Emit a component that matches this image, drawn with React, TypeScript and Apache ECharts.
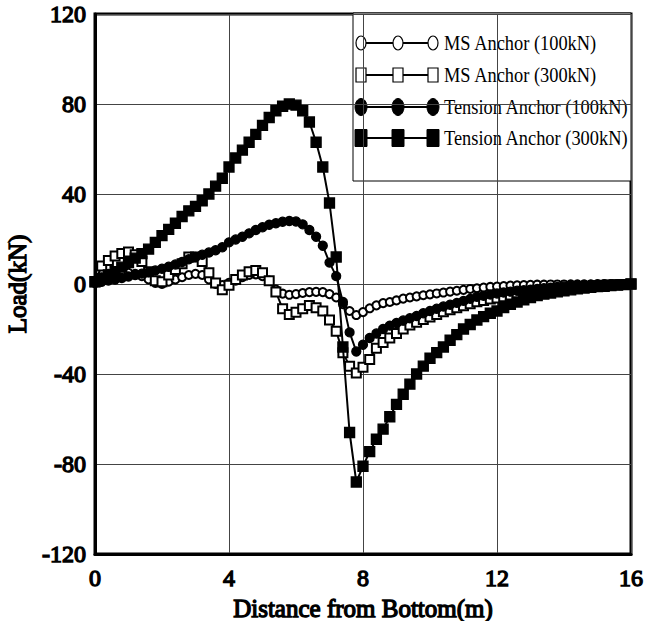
import React, { useEffect, useRef } from "react";
import * as echarts from "echarts";

const distance = [
  0, 0.2, 0.4, 0.6, 0.8, 1.0, 1.2, 1.4, 1.6, 1.8,
  2.0, 2.2, 2.4, 2.6, 2.8, 3.0, 3.2, 3.4, 3.6, 3.8,
  4.0, 4.2, 4.4, 4.6, 4.8, 5.0, 5.2, 5.4, 5.6, 5.8,
  6.0, 6.2, 6.4, 6.6, 6.8, 7.0, 7.2, 7.4, 7.6, 7.8,
  8.0, 8.2, 8.4, 8.6, 8.8, 9.0, 9.2, 9.4, 9.6, 9.8,
  10.0, 10.2, 10.4, 10.6, 10.8, 11.0, 11.2, 11.4, 11.6, 11.8,
  12.0, 12.2, 12.4, 12.6, 12.8, 13.0, 13.2, 13.4, 13.6, 13.8,
  14.0, 14.2, 14.4, 14.6, 14.8, 15.0, 15.2, 15.4, 15.6, 15.8,
  16.0,
];

const msAnchor100 = [
  0.5, 3, 4.5, 5.5, 5.5, 5, 4.5, 3.5, 2, 0.5,
  0, 1, 2, 3, 4, 4.5, 4, 2, 0, -0.5,
  0.5, 1.5, 3, 4, 4.3, 3.5, 1.5, -2.5, -4.3, -4.8,
  -4.5, -4, -3.6, -3.5, -3.6, -4.5, -6, -9, -12, -13.8,
  -12.5, -10.8, -9.5, -8.5, -8, -7.3, -6.5, -6, -5.5, -5,
  -4.6, -4.2, -3.8, -3.4, -3, -2.6, -2.2, -1.9, -1.6, -1.3,
  -1.1, -0.9, -0.7, -0.6, -0.5, -0.4, -0.3, -0.3, -0.2, -0.2,
  -0.2, -0.1, -0.1, -0.1, -0.1, 0, 0, 0, 0, 0,
  0,
];

const msAnchor300 = [
  1, 8, 10.5, 12.5, 13.6, 14.2, 13, 10, 5.5, 1.5,
  1, 4, 6.5, 9, 12, 12, 10, 5, 0.5, -2.5,
  -0.5, 2, 4, 5.5, 6, 5, 1.5, -3.5, -11, -13.5,
  -12.5, -11, -9.5, -10.5, -12, -16, -21, -30.5, -36.5, -39.5,
  -37, -33.5, -28.5, -26, -24, -22, -20, -18.2, -17, -15.8,
  -14.7, -13.5, -12.3, -11.4, -10.6, -9.7, -8.8, -7.9, -7.3, -6.7,
  -6.2, -5.7, -5.2, -4.8, -4.4, -4, -3.6, -3.2, -2.8, -2.5,
  -2.2, -1.9, -1.6, -1.3, -1, -0.8, -0.6, -0.4, -0.3, -0.2,
  0,
];

const tensionAnchor100 = [
  0.5, 1, 1.5, 2, 2.7, 3.3, 4, 4.6, 5.2, 6,
  6.8, 7.7, 8.7, 9.8, 11, 12, 13, 14, 15, 16.3,
  18.5, 19.8, 21, 22.5, 24, 25.2, 26.3, 27, 27.7, 28,
  27.8, 26.5, 24, 21, 17, 9.5, 3.5, -8, -21.5, -30,
  -27, -24, -22, -20, -18.5, -17.3, -16.2, -15.2, -14.2, -13,
  -12, -11, -10, -9.2, -8.4, -7.5, -6.6, -5.7, -5.2, -4.7,
  -4.2, -3.8, -3.4, -3, -2.8, -2.5, -2.2, -1.9, -1.6, -1.3,
  -1.1, -0.9, -0.7, -0.5, -0.4, -0.3, -0.2, -0.2, -0.1, -0.1,
  0,
];

const tensionAnchor300 = [
  1, 2.5, 4, 5.5, 7.5, 9.5, 11.5, 13.5, 15.5, 18.5,
  21.5, 24.3, 27, 30, 32.5, 34.5, 37, 40, 43.5, 47,
  52, 56, 59.5, 63, 66.5, 70.5, 74, 77, 79, 80,
  79.5, 77, 72, 63, 52, 36, 12, -28, -66, -88,
  -81, -74.5, -69, -64.5, -59, -53.5, -49, -44.5, -40, -36.5,
  -33, -30.5, -28, -25, -22.5, -20, -18, -16, -14.5, -13,
  -12, -10.5, -9, -8, -7, -6, -5.2, -4.5, -4, -3.5,
  -3, -2.6, -2.2, -1.8, -1.5, -1.2, -1, -0.7, -0.5, -0.3,
  0,
];

const seriesNames = [
  "MS Anchor (100kN)",
  "MS Anchor (300kN)",
  "Tension Anchor (100kN)",
  "Tension Anchor (300kN)",
];

const xTicks = { min: 0, max: 16, interval: 4 };
const yTicks = { min: -120, max: 120, interval: 40 };

const SERIF = "Liberation Serif, Times New Roman, serif";

function legendGraphic() {
  const rowsY = [43, 75, 107, 138];
  const markerX = [361, 398, 433];
  const kinds = ["emptyCircle", "emptyRect", "circle", "rect"];
  const children: any[] = [
    {
      type: "rect",
      shape: { x: 353, y: 13, width: 278, height: 168 },
      style: { fill: "#fff", stroke: "#000", lineWidth: 1 },
    },
  ];
  rowsY.forEach((y, i) => {
    children.push({
      type: "line",
      shape: { x1: 358, y1: y, x2: 436, y2: y },
      style: { stroke: "#000", lineWidth: 2 },
    });
    markerX.forEach((mx) => {
      const k = kinds[i];
      if (k === "emptyCircle") {
        children.push({
          type: "ellipse",
          shape: { cx: mx, cy: y, rx: 5, ry: 7 },
          style: { fill: "#fff", stroke: "#000", lineWidth: 1.2 },
        });
      } else if (k === "circle") {
        children.push({
          type: "ellipse",
          shape: { cx: mx, cy: y, rx: 6, ry: 8.5 },
          style: { fill: "#000", stroke: "#000", lineWidth: 1 },
        });
      } else if (k === "emptyRect") {
        children.push({
          type: "rect",
          shape: { x: mx - 5, y: y - 7, width: 10, height: 14 },
          style: { fill: "#fff", stroke: "#000", lineWidth: 1.2 },
        });
      } else {
        children.push({
          type: "rect",
          shape: { x: mx - 6, y: y - 8.5, width: 12, height: 17 },
          style: { fill: "#000", stroke: "#000", lineWidth: 1 },
        });
      }
    });
    children.push({
      type: "text",
      x: 444,
      y: y,
      scaleX: 0.92,
      style: {
        text: seriesNames[i],
        fill: "#000",
        fontFamily: SERIF,
        fontSize: 20,
        verticalAlign: "middle",
        align: "left",
      },
    });
  });
  return [{ type: "group", z: 100, children }];
}

export default function App() {
  const ref = useRef<HTMLDivElement>(null);

  useEffect(() => {
    if (!ref.current) return;
    const chart = echarts.init(ref.current, undefined, { renderer: "svg" });
    const pts = (arr: number[]) => distance.map((d, i) => [d, arr[i]]);
    const seriesDefs = [
      { data: msAnchor100, symbol: "emptyCircle", size: 8 },
      { data: msAnchor300, symbol: "emptyRect", size: 9 },
      { data: tensionAnchor100, symbol: "circle", size: 9 },
      { data: tensionAnchor300, symbol: "rect", size: 10 },
    ];
    const labelFont = {
      fontFamily: SERIF,
      fontWeight: "normal",
      fontSize: 24,
      color: "#000",
      textBorderColor: "#000",
      textBorderWidth: 1.3,
    };
    chart.setOption({
      animation: false,
      backgroundColor: "#fff",
      textStyle: { fontFamily: SERIF },
      grid: {
        left: 95,
        right: 22,
        top: 14,
        bottom: 67,
        containLabel: false,
        outerBoundsMode: "none",
        show: true,
        borderColor: "#000",
        borderWidth: 3,
        backgroundColor: "transparent",
      },
      xAxis: {
        type: "value",
        min: xTicks.min,
        max: xTicks.max,
        interval: xTicks.interval,
        name: "Distance from Bottom(m)",
        nameLocation: "middle",
        nameGap: 38,
        nameTextStyle: { ...labelFont, fontSize: 25 },
        axisLine: { show: true, onZero: false, lineStyle: { color: "#000", width: 3 } },
        axisTick: { show: false },
        axisLabel: { margin: 12, ...labelFont },
        splitLine: { show: true, lineStyle: { color: "#444", width: 1 } },
      },
      yAxis: {
        type: "value",
        min: yTicks.min,
        max: yTicks.max,
        interval: yTicks.interval,
        name: "Load(kN)",
        nameLocation: "middle",
        nameRotate: 90,
        nameGap: 50,
        nameTextStyle: { ...labelFont, fontSize: 25 },
        axisLine: { show: true, onZero: false, lineStyle: { color: "#000", width: 3 } },
        axisTick: { show: false },
        axisLabel: { margin: 9, ...labelFont },
        splitLine: { show: true, lineStyle: { color: "#444", width: 1 } },
      },
      series: seriesDefs.map((s, i) => ({
        name: seriesNames[i],
        type: "line",
        data: pts(s.data),
        symbol: s.symbol,
        symbolSize: s.size,
        showAllSymbol: true,
        lineStyle: { color: "#000", width: 2 },
        itemStyle: { color: "#000", borderColor: "#000", borderWidth: 1.3 },
        z: 2 + i,
      })),
      graphic: legendGraphic(),
    });
    return () => chart.dispose();
  }, []);

  return (
    <div
      ref={ref}
      style={{ position: "fixed", left: 0, top: 0, width: 653, height: 621, background: "#fff" }}
    />
  );
}
